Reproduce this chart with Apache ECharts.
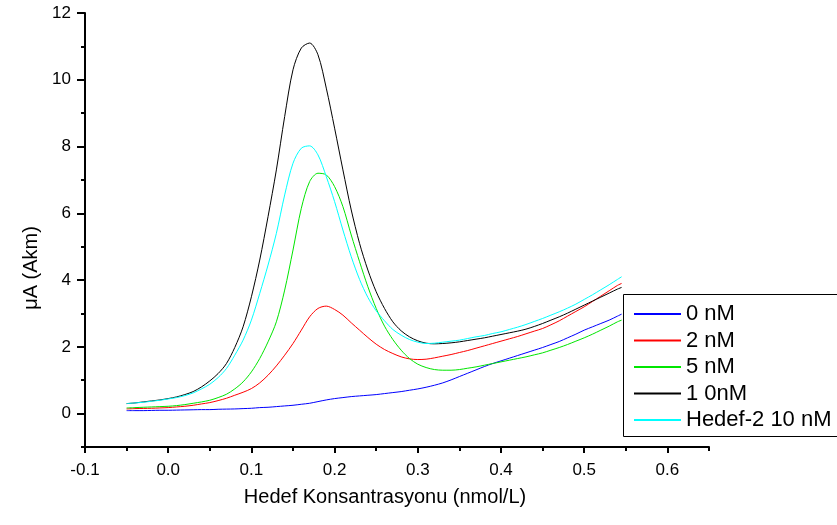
<!DOCTYPE html>
<html>
<head>
<meta charset="utf-8">
<script src="https://cdn.jsdelivr.net/npm/echarts@6/dist/echarts.min.js"></script>
<style>
  html, body { margin: 0; padding: 0; background: #fff; }
  #chart { width: 837px; height: 525px; }
</style>
</head>
<body>
<div id="chart"></div>
<script>
// x positions (nmol/L)
const xValues = [-0.05, -0.04, -0.03, -0.02, -0.01, 0, 0.01, 0.02, 0.03, 0.04,
  0.05, 0.06, 0.07, 0.08, 0.09, 0.1, 0.11, 0.12, 0.13, 0.14,
  0.15, 0.16, 0.17, 0.18, 0.19, 0.2, 0.21, 0.22, 0.23, 0.24,
  0.25, 0.26, 0.27, 0.28, 0.29, 0.3, 0.31, 0.32, 0.33, 0.34,
  0.35, 0.36, 0.37, 0.38, 0.39, 0.4, 0.41, 0.42, 0.43, 0.44,
  0.45, 0.46, 0.47, 0.48, 0.49, 0.5, 0.51, 0.52, 0.53, 0.54, 0.545];

const seriesNames = ["0 nM", "2 nM", "5 nM", "1 0nM", "Hedef-2 10 nM"];

const nM0 = [0.09, 0.09, 0.09, 0.095, 0.10, 0.10, 0.105, 0.11, 0.115, 0.12,
  0.12, 0.13, 0.135, 0.14, 0.15, 0.16, 0.18, 0.19, 0.21, 0.23,
  0.25, 0.28, 0.31, 0.36, 0.41, 0.45, 0.48, 0.51, 0.53, 0.55,
  0.57, 0.60, 0.63, 0.66, 0.70, 0.74, 0.79, 0.85, 0.92, 1.01,
  1.11, 1.21, 1.31, 1.41, 1.50, 1.58, 1.66, 1.74, 1.82, 1.90,
  1.98, 2.07, 2.16, 2.27, 2.38, 2.50, 2.60, 2.70, 2.80, 2.92, 2.98];

const nM2 = [0.14, 0.15, 0.155, 0.16, 0.17, 0.18, 0.20, 0.22, 0.25, 0.29,
  0.33, 0.39, 0.46, 0.55, 0.64, 0.75, 0.92, 1.15, 1.43, 1.75,
  2.10, 2.50, 2.90, 3.15, 3.22, 3.12, 2.95, 2.72, 2.50, 2.28,
  2.08, 1.92, 1.80, 1.70, 1.64, 1.62, 1.63, 1.67, 1.72, 1.77,
  1.83, 1.89, 1.96, 2.03, 2.10, 2.17, 2.24, 2.31, 2.39, 2.47,
  2.55, 2.66, 2.78, 2.92, 3.06, 3.20, 3.36, 3.52, 3.68, 3.84, 3.90];

const nM5 = [0.17, 0.18, 0.19, 0.20, 0.21, 0.22, 0.24, 0.27, 0.31, 0.35,
  0.40, 0.48, 0.58, 0.74, 0.95, 1.25, 1.65, 2.15, 2.75, 3.70,
  4.90, 6.15, 6.95, 7.20, 7.15, 6.80, 6.20, 5.35, 4.55, 3.80,
  3.15, 2.62, 2.22, 1.90, 1.65, 1.48, 1.38, 1.32, 1.30, 1.30,
  1.32, 1.36, 1.40, 1.45, 1.50, 1.55, 1.60, 1.65, 1.70, 1.76,
  1.82, 1.90, 1.98, 2.07, 2.17, 2.27, 2.38, 2.50, 2.62, 2.75, 2.80];

const nM10 = [0.30, 0.32, 0.35, 0.38, 0.41, 0.45, 0.50, 0.57, 0.66, 0.80,
  0.98, 1.20, 1.50, 1.98, 2.60, 3.50, 4.60, 5.90, 7.30, 8.90,
  10.30, 10.95, 11.10, 10.75, 9.75, 8.55, 7.30, 6.10, 5.10, 4.30,
  3.65, 3.15, 2.75, 2.48, 2.30, 2.18, 2.11, 2.09, 2.10, 2.12,
  2.15, 2.19, 2.23, 2.27, 2.32, 2.37, 2.42, 2.47, 2.53, 2.61,
  2.70, 2.80, 2.90, 3.01, 3.13, 3.25, 3.37, 3.49, 3.61, 3.73, 3.78];

const hedef10 = [0.30, 0.32, 0.34, 0.37, 0.40, 0.44, 0.48, 0.54, 0.62, 0.74,
  0.88, 1.08, 1.35, 1.75, 2.20, 2.80, 3.60, 4.45, 5.40, 6.55,
  7.50, 7.95, 8.02, 7.75, 7.10, 6.35, 5.50, 4.70, 4.02, 3.48,
  3.08, 2.78, 2.52, 2.35, 2.22, 2.14, 2.10, 2.11, 2.14, 2.17,
  2.20, 2.25, 2.30, 2.34, 2.40, 2.45, 2.52, 2.59, 2.67, 2.76,
  2.85, 2.95, 3.05, 3.16, 3.28, 3.42, 3.56, 3.71, 3.86, 4.02, 4.10];

const colors = ["#0000ff", "#ff0000", "#00e600", "#000000", "#00ffff"];

// tick labels
const xTicks = [-0.1, 0.0, 0.1, 0.2, 0.3, 0.4, 0.5, 0.6];
const yTicks = [0, 2, 4, 6, 8, 10, 12];

const font = "Liberation Sans, Arial, sans-serif";

const chart = echarts.init(document.getElementById("chart"));

const allSeries = [nM0, nM2, nM5, nM10, hedef10].map((arr, i) => ({
  name: seriesNames[i],
  type: "line",
  data: xValues.map((x, j) => [x, arr[j]]),
  smooth: 0.3,
  symbol: "none",
  showSymbol: false,
  lineStyle: { color: colors[i], width: 1 },
  itemStyle: { color: colors[i] },
}));

let option = {
  animation: false,
  backgroundColor: "#fff",
  grid: { left: 85, right: 128, top: 13, bottom: 78 },
  xAxis: [
    {
      type: "value",
      min: -0.1,
      max: 0.65,
      name: "Hedef Konsantrasyonu (nmol/L)",
      nameLocation: "middle",
      nameGap: 40,
      nameTextStyle: { fontFamily: font, fontSize: 20, color: "#000", padding: [0, 24, 0, 0] },
      axisLine: { show: true, onZero: false, lineStyle: { color: "#000", width: 2 } },
      axisTick: { show: true, customValues: xTicks, length: 6, lineStyle: { color: "#000", width: 2 } },
      axisLabel: {
        customValues: xTicks,
        formatter: (v) => v.toFixed(1),
        fontFamily: font,
        fontSize: 17,
        color: "#000",
        margin: 15,
      },
      splitLine: { show: false },
    },
    {
      type: "value",
      min: -0.1,
      max: 0.65,
      interval: 0.05,
      position: "bottom",
      axisLine: { show: false, onZero: false },
      axisTick: { show: true, length: 4, lineStyle: { color: "#000", width: 2 } },
      axisLabel: { show: false },
      splitLine: { show: false },
    },
  ],
  yAxis: [
    {
      type: "value",
      min: -1,
      max: 12,
      name: "μA (Akm)",
      nameLocation: "middle",
      nameGap: 42,
      nameTextStyle: { fontFamily: font, fontSize: 20, color: "#000", padding: [0, 76, 0, 0] },
      axisLine: { show: true, onZero: false, lineStyle: { color: "#000", width: 2 } },
      axisTick: { show: true, customValues: yTicks, length: 8, lineStyle: { color: "#000", width: 2 } },
      axisLabel: {
        customValues: yTicks,
        fontFamily: font,
        fontSize: 17,
        color: "#000",
        margin: 14,
      },
      splitLine: { show: false },
    },
    {
      type: "value",
      min: -1,
      max: 12,
      interval: 1,
      position: "left",
      axisLine: { show: false, onZero: false },
      axisTick: { show: true, length: 4, lineStyle: { color: "#000", width: 2 } },
      axisLabel: { show: false },
      splitLine: { show: false },
    },
  ],
  // legend frame runs past the right edge, as in the original
  graphic: [
    {
      type: "rect",
      z: 5,
      shape: { x: 623.5, y: 294.5, width: 260, height: 142 },
      style: { fill: "#fff", stroke: "#000", lineWidth: 1 },
    },
  ],
  legend: {
    data: seriesNames,
    orient: "vertical",
    left: 623,
    top: 294,
    padding: [9, 0, 8, 11],
    icon: "rect",
    itemWidth: 47,
    itemHeight: 2,
    itemGap: 4.5,
    selectedMode: false,
    textStyle: { fontFamily: font, fontSize: 22, color: "#000", lineHeight: 22 },
    z: 10,
  },
  series: allSeries,
};

option && chart.setOption(option);
</script>
</body>
</html>
